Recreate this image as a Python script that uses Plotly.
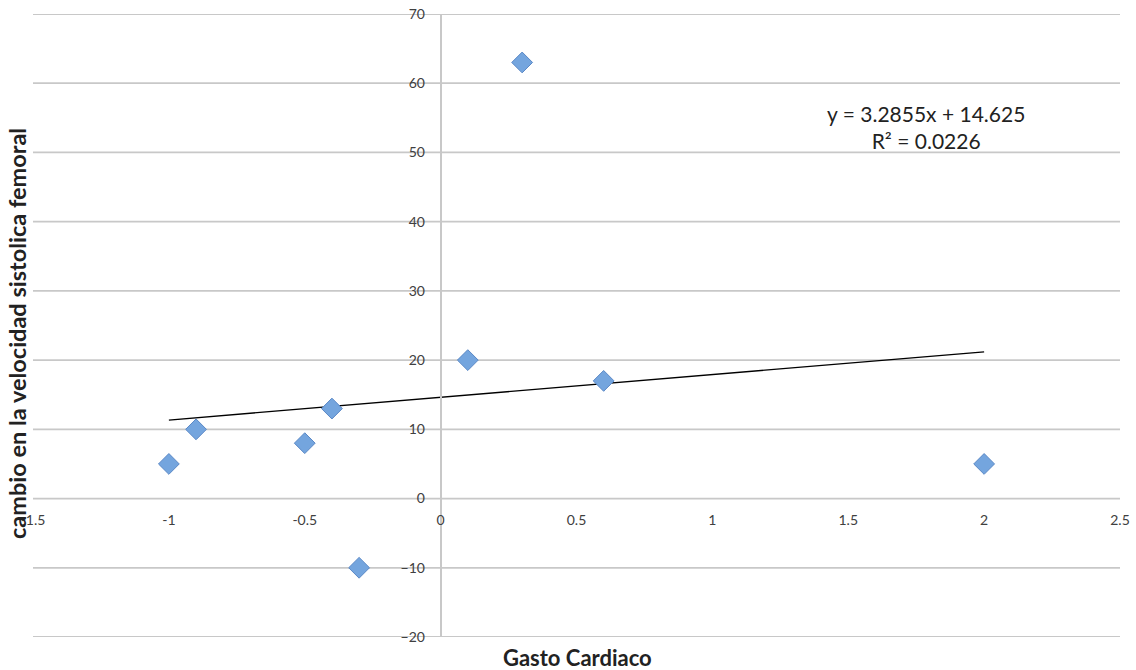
import plotly.graph_objects as go

# Data
gasto_cardiaco = [-1.0, -0.9, -0.5, -0.4, -0.3, 0.1, 0.3, 0.6, 2.0]
cambio_velocidad = [5, 10, 8, 13, -10, 20, 63, 17, 5]

# Trendline coefficients (as printed on chart)
slope = 3.2855
intercept = 14.625
r_squared = 0.0226

x_range = [-1.5, 2.5]
y_range = [-20, 70]
x_ticks = [-1.5, -1, -0.5, 0, 0.5, 1, 1.5, 2, 2.5]
y_ticks = [-20, -10, 0, 10, 20, 30, 40, 50, 60, 70]

trend_x = [min(gasto_cardiaco), max(gasto_cardiaco)]
trend_y = [slope * v + intercept for v in trend_x]

font_fam = "Lato, 'Open Sans', sans-serif"
W, H = 1136, 670
pl, pr, pt, pb = 33, 1120, 14, 637

fig = go.Figure()
fig.add_trace(go.Scatter(
    x=trend_x, y=trend_y, mode="lines",
    line=dict(color="black", width=1.3), hoverinfo="skip", showlegend=False))
fig.add_trace(go.Scatter(
    x=gasto_cardiaco, y=cambio_velocidad, mode="markers",
    marker=dict(symbol="diamond", size=16, color="#74a5de",
                line=dict(color="#5a88c6", width=1)),
    showlegend=False))

x_pos = (0 - x_range[0]) / (x_range[1] - x_range[0])
y_pos = (0 - y_range[0]) / (y_range[1] - y_range[0])

# Horizontal gridlines (including range ends) drawn from tick values
shapes = [dict(type="line", xref="paper", yref="y", x0=0, x1=1, y0=v, y1=v,
               line=dict(color="#c8c8c8", width=1.8), layer="below")
          for v in y_ticks]


def px_to_paper(px, py):
    return (px - pl) / (pr - pl), (pb - py) / (pb - pt)


ex, ey = px_to_paper(926, 127)
gx, gy = px_to_paper(577, 657)
vx, vy = px_to_paper(17, 334)

fig.update_layout(
    width=W, height=H,
    margin=dict(l=pl, r=W - pr, t=pt, b=H - pb, autoexpand=False),
    paper_bgcolor="white", plot_bgcolor="white",
    font=dict(family=font_fam, size=14, color="#404040"),
    shapes=shapes,
    xaxis=dict(range=x_range, tickvals=x_ticks,
               ticktext=[f"{v:g}" for v in x_ticks],
               showgrid=False, zeroline=False, showline=False,
               ticks="", anchor="free", position=y_pos, automargin=False,
               ticklabelstandoff=11, fixedrange=True),
    yaxis=dict(range=y_range, tickvals=y_ticks,
               showgrid=False, zeroline=False, showline=True,
               linecolor="#c8c8c8", linewidth=1.8,
               ticks="", anchor="free", position=x_pos, automargin=False,
               ticklabelstandoff=12, fixedrange=True),
    annotations=[
        dict(text=f"y = {slope}x + {intercept}<br>R² = {r_squared}",
             x=ex, y=ey, xref="paper", yref="paper", showarrow=False,
             font=dict(family=font_fam, size=21, color="#222222"),
             align="center", xanchor="center", yanchor="middle"),
        dict(text="<b>Gasto Cardiaco</b>", x=gx, y=gy, xref="paper", yref="paper",
             showarrow=False, xanchor="center", yanchor="middle",
             font=dict(family=font_fam, size=22, color="#222222")),
        dict(text="<b>cambio en la velocidad sistolica femoral</b>",
             x=vx, y=vy, xref="paper", yref="paper", textangle=-90,
             showarrow=False, xanchor="center", yanchor="middle",
             font=dict(family=font_fam, size=23.5, color="#222222")),
    ],
)

fig.write_html("out.html")
